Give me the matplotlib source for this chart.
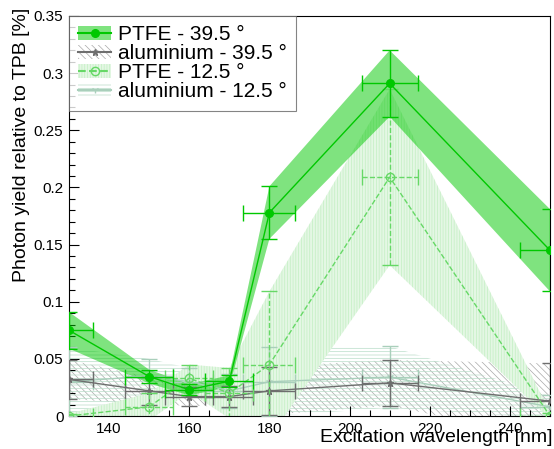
import numpy as np
import matplotlib
matplotlib.use("Agg")
import matplotlib.pyplot as plt
from matplotlib.patches import Patch
from matplotlib.lines import Line2D

plt.rcParams['font.family'] = ['Liberation Sans', 'DejaVu Sans']
plt.rcParams['hatch.linewidth'] = 0.5

# excitation wavelengths [nm] and monochromator half-widths
wl = [130, 150, 160, 170, 180, 210, 250]
wl_err = [6, 6, 6, 6, 6.5, 7, 7.5]

# photon yield relative to TPB [%]
ptfe_395 = [0.075, 0.0345, 0.023, 0.0305, 0.178, 0.291, 0.145]
ptfe_395_err = [0.016, 0.006, 0.005, 0.005, 0.023, 0.029, 0.036]

alu_395 = [0.032, 0.022, 0.017, 0.017, 0.022, 0.029, 0.013]
alu_395_err = [0.017, 0.012, 0.008, 0.009, 0.021, 0.020, 0.033]

ptfe_125 = [0.0, 0.008, 0.033, 0.020, 0.045, 0.209, 0.0]
ptfe_125_err = [0.002, 0.012, 0.012, 0.022, 0.064, 0.077, 0.003]

alu_125 = [0.030, 0.035, 0.030, 0.022, 0.030, 0.034, 0.008]
alu_125_err = [0.030, 0.015, 0.012, 0.015, 0.030, 0.027, 0.010]

fig = plt.figure(figsize=(5.54, 4.49), dpi=100)
ax = fig.add_axes([69 / 554, 1 - 416 / 449, 481 / 554, 400 / 449])

x = np.array(wl)


def band(y, e, **kw):
    y = np.array(y)
    e = np.array(e)
    ax.fill_between(x, y - e, y + e, **kw)


# uncertainty bands
band(alu_395, alu_395_err, facecolor='none', edgecolor='#a8a8a8',
     hatch='\\\\\\\\\\', linewidth=0, zorder=1)
band(alu_125, alu_125_err, facecolor='none', edgecolor='#b8dcc8',
     hatch='-----', linewidth=0, zorder=1)
band(ptfe_125, ptfe_125_err, facecolor='#e4f7e4', edgecolor='#c2efc2',
     hatch='||||||', linewidth=0, zorder=2)
band(ptfe_395, ptfe_395_err, facecolor='#00c800', alpha=0.5,
     linewidth=0, zorder=3)

# measured points
ax.errorbar(wl, alu_125, yerr=alu_125_err, xerr=wl_err, color='#a9cfbb',
            marker='1', ms=5, mfc='none', lw=1, capsize=6, zorder=4)
ax.errorbar(wl, alu_395, yerr=alu_395_err, xerr=wl_err, color='#6e6e6e',
            marker='*', ms=5, lw=1, capsize=6, zorder=5)
eb = ax.errorbar(wl, ptfe_125, yerr=ptfe_125_err, xerr=wl_err, color='#66d866',
                 marker='o', ms=6, mfc='none', lw=1, ls='--', capsize=6,
                 zorder=6)
for c in eb[2]:
    c.set_linestyle('--')
ax.errorbar(wl, ptfe_395, yerr=ptfe_395_err, xerr=wl_err, color='#00c800',
            marker='o', ms=5.5, lw=1, capsize=6, zorder=7)

ax.set_xlim(130, 250)
ax.set_ylim(0, 0.35)
ax.set_xticks(np.arange(140, 250, 20))
ax.set_xticks(np.arange(130, 251, 5), minor=True)
ax.set_yticks(np.arange(0, 0.351, 0.05))
ax.set_yticks(np.arange(0, 0.351, 0.01), minor=True)
ax.set_yticklabels(['0', '0.05', '0.1', '0.15', '0.2', '0.25', '0.3', '0.35'])
ax.tick_params(direction='in', labelsize=11, length=7, width=0.8, pad=4)
ax.tick_params(which='minor', direction='in', length=4, width=0.8)
for s in ax.spines.values():
    s.set_linewidth(0.8)

fig.text(552 / 554, 1 - 438 / 449, 'Excitation wavelength [nm]',
         ha='right', va='center', fontsize=14)
fig.text(22 / 554, 1 - 8 / 449, 'Photon yield relative to TPB [%]',
         rotation=90, ha='center', va='top', fontsize=14)

handles = [
    (Patch(facecolor='#00c800', alpha=0.5, linewidth=0),
     Line2D([], [], color='#00c800', marker='o', ms=5.5)),
    (Patch(facecolor='none', edgecolor='#a8a8a8', hatch='\\\\\\\\\\', linewidth=0),
     Line2D([], [], color='#6e6e6e', marker='*', ms=5)),
    (Patch(facecolor='#e4f7e4', edgecolor='#c2efc2', hatch='||||||', linewidth=0),
     Line2D([], [], color='#66d866', marker='o', ms=6, mfc='none', ls='--')),
    (Patch(facecolor='none', edgecolor='#b8dcc8', hatch='-----', linewidth=0),
     Line2D([], [], color='#a9cfbb', marker='1', ms=5)),
]
labels = ['PTFE - 39.5 °', 'aluminium - 39.5 °', 'PTFE - 12.5 °',
          'aluminium - 12.5 °']
leg = ax.legend(handles, labels, loc='upper left', fontsize=15,
                borderaxespad=0, fancybox=False, handlelength=1.55,
                handleheight=0.65, handletextpad=0.35, labelspacing=0.0,
                borderpad=0.45)
leg.get_frame().set_edgecolor('#666666')
leg.get_frame().set_linewidth(0.8)
leg.set_zorder(10)

fig.savefig('out.png', dpi=100)
